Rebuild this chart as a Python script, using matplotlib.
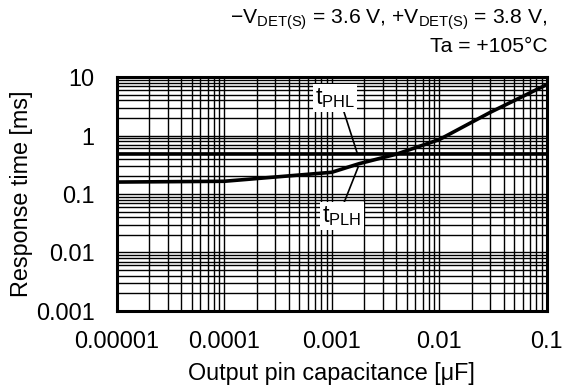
import matplotlib
matplotlib.use("Agg")
import matplotlib.pyplot as plt

plt.rcParams['font.family'] = ['Liberation Sans', 'DejaVu Sans']
plt.rcParams['mathtext.fontset'] = 'custom'
plt.rcParams['mathtext.rm'] = 'Liberation Sans'
plt.rcParams['mathtext.it'] = 'Liberation Sans:italic'
plt.rcParams['mathtext.bf'] = 'Liberation Sans:bold'

# Data
cap = [1e-5, 1e-4, 1e-3, 1.8e-3, 4e-3, 1e-2, 3e-2, 1e-1]
t_plh = [0.16, 0.165, 0.235, 0.33, 0.48, 0.85, 2.5, 7.4]
cap_phl = [1e-5, 1e-1]
t_phl = [0.48, 0.48]
x_ticks = [1e-5, 1e-4, 1e-3, 1e-2, 1e-1]
x_ticklabels = ['0.00001', '0.0001', '0.001', '0.01', '0.1']
y_ticks = [0.001, 0.01, 0.1, 1, 10]
y_ticklabels = ['0.001', '0.01', '0.1', '1', '10']

FS = 16.8
fig = plt.figure(figsize=(5.63, 3.88), dpi=100)
ax = fig.add_axes([0.2073, 0.1985, 0.7637, 0.603])
ax.set_xscale('log')
ax.set_yscale('log')
ax.set_xlim(1e-5, 1e-1)
ax.set_ylim(1e-3, 10)

ax.grid(True, which='both', color='black', linewidth=1.0)
ax.set_axisbelow(True)

ax.plot(cap_phl, t_phl, color='black', linewidth=2.6, solid_capstyle='butt', zorder=3)
ax.plot(cap, t_plh, color='black', linewidth=2.6, zorder=3)

ax.set_xticks(x_ticks)
ax.set_xticklabels(x_ticklabels)
ax.set_yticks(y_ticks)
ax.set_yticklabels(y_ticklabels)
ax.tick_params(which='both', length=0, labelsize=FS)
ax.tick_params(axis='x', pad=14)
ax.tick_params(axis='y', pad=16)
for s in ax.spines.values():
    s.set_linewidth(2.2)
    s.set_zorder(5)

ax.set_xlabel('Output pin capacitance [μF]', fontsize=FS, labelpad=6)
ax.set_ylabel('Response time [ms]', fontsize=FS, labelpad=2)

# labels with leader lines
ax.plot([1.29e-3, 1.74e-3], [2.65, 0.48], color='black', linewidth=1.2, zorder=4)
ax.plot([1.29e-3, 1.76e-3], [0.068, 0.287], color='black', linewidth=1.2, zorder=4)
bb = dict(facecolor='white', edgecolor='none', pad=1.5)
ax.text(1.07e-3, 4.4, r'$\mathrm{t}_{\mathrm{PHL}}$', fontsize=FS, ha='center', va='center',
        bbox=bb, zorder=6)
ax.text(1.25e-3, 0.042, r'$\mathrm{t}_{\mathrm{PLH}}$', fontsize=FS, ha='center', va='center',
        bbox=bb, zorder=6)

fig.text(0.973, 0.94, r'−V$_{\mathrm{DET(S)}}$ = 3.6 V, +V$_{\mathrm{DET(S)}}$ = 3.8 V,',
         fontsize=15.2, ha='right', va='baseline')
fig.text(0.973, 0.865, 'Ta = +105°C', fontsize=15.2, ha='right', va='baseline')

fig.savefig('out.png', dpi=100)
